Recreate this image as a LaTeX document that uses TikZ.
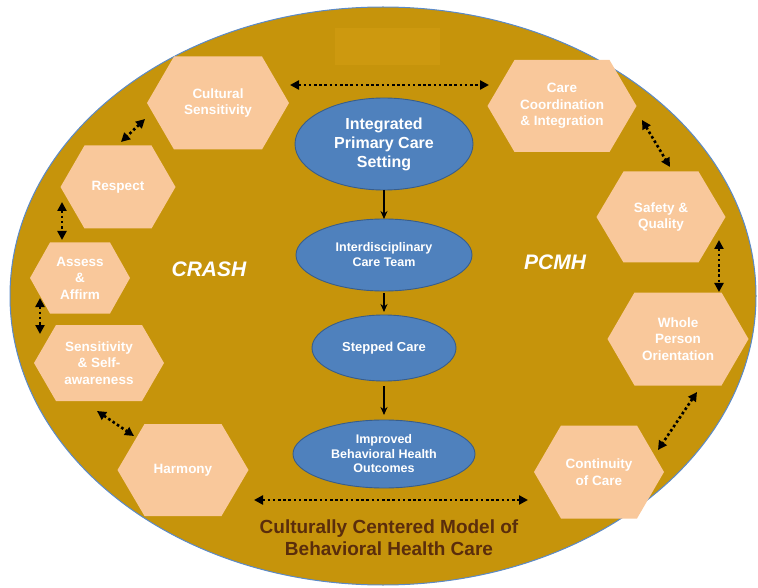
\documentclass[tikz,border=0pt]{standalone}
\usepackage{fontspec}
\setmainfont{Liberation Sans}
\usetikzlibrary{arrows.meta,shapes.geometric}
\definecolor{gold}{HTML}{C6940B}
\definecolor{goldlight}{HTML}{CD990F}
\definecolor{peach}{HTML}{F9C89B}
\definecolor{bluefill}{HTML}{4F81BD}
\definecolor{blueline}{HTML}{385D8A}
\definecolor{rimblue}{HTML}{5B8AC8}
\definecolor{titlebrown}{HTML}{5A2D0C}
\tikzset{
  hextext/.style={inner sep=0pt, outer sep=0pt, align=center, text=white,
    font=\bfseries\fontsize{13.5}{16.5}\selectfont},
  hexfill/.style={fill=peach},
  oval/.style={ellipse, fill=bluefill, draw=blueline, line width=0.9pt,
    inner sep=0pt, outer sep=0pt, align=center, text=white},
  dotarrow/.style={line width=2.6pt, dash pattern=on 2.6pt off 2.6pt,
    {Triangle[length=9pt,width=9pt]}-{Triangle[length=9pt,width=9pt]}},
  flowarrow/.style={line width=1.4pt, -{Stealth[length=8pt,width=7pt]}},
  biglabel/.style={text=white, font=\bfseries\itshape\fontsize{21}{24}\selectfont},
}
\newcommand\hexa[7]{%
  \fill[hexfill] (#2-#4/2+#6,#3-#5/2) -- (#2+#4/2-#6,#3-#5/2) -- (#2+#4/2,#3)
    -- (#2+#4/2-#6,#3+#5/2) -- (#2-#4/2+#6,#3+#5/2) -- (#2-#4/2,#3) -- cycle;
  \node[hextext, minimum width=#4pt, minimum height=#5pt] (#1) at (#2,#3) {#7};
}
\begin{document}
\begin{tikzpicture}[x=1pt,y=-1pt]
\useasboundingbox (0,0) rectangle (758,588);
% background oval
\fill[gold] (383,296) ellipse [x radius=373, y radius=289];
\draw[rimblue, line width=1pt] (383,296) ellipse [x radius=373, y radius=289];
\fill[goldlight] (335,28) rectangle (440,65);

% hexagons
\hexa{cs}{218}{103}{142}{93}{27}{Cultural\\Sensitivity}
\hexa{re}{118}{187}{115}{83}{24}{Respect}
\hexa{aa}{80}{278}{100}{71}{20}{Assess\\\&\\Affirm}
\hexa{ss}{99}{363}{130}{76}{22}{Sensitivity\\\& Self-\\awareness}
\hexa{ha}{183}{470}{131}{92}{27}{Harmony}
\hexa{cc}{562}{106}{149}{92}{27}{Care\\Coordination\\\& Integration}
\hexa{sq}{661}{217}{129}{91}{27}{Safety \&\\Quality}
\hexa{wp}{678}{339}{141}{93}{27}{Whole\\Person\\Orientation}
\hexa{co}{599}{472}{130}{93}{27}{Continuity\\of Care}

% central ovals
\node[oval, minimum width=178pt, minimum height=92pt,
  font=\bfseries\fontsize{16}{19}\selectfont] (ip) at (384,144) {Integrated\\Primary Care\\Setting};
\node[oval, minimum width=176pt, minimum height=72pt,
  font=\bfseries\fontsize{12.5}{15}\selectfont] (it) at (384,255) {Interdisciplinary\\Care Team};
\node[oval, minimum width=144pt, minimum height=66pt,
  font=\bfseries\fontsize{13}{15}\selectfont] (sc) at (384,348) {Stepped Care};
\node[oval, minimum width=182pt, minimum height=68pt,
  font=\bfseries\fontsize{12.5}{14.5}\selectfont] (ib) at (384,454) {Improved\\Behavioral Health\\Outcomes};

\draw[flowarrow] (ip.south) -- (it.north);
\draw[flowarrow, shorten <=2pt, shorten >=3pt] (it.south) -- (sc.north);
\draw[flowarrow, shorten <=5pt, shorten >=5pt] (sc.south) -- (ib.north);

% side labels
\node[biglabel] (crash) at (209,269) {CRASH};
\node[biglabel] (pcmh) at (555,262) {PCMH};

% title
\node[align=center, text=titlebrown, font=\bfseries\fontsize{19}{22}\selectfont] (title) at (389,538)
  {Culturally Centered Model of\\Behavioral Health Care};

% dotted connectors
\coordinate (t1) at (290,85); \coordinate (t2) at (489,85);
\draw[dotarrow] (t1) -- (t2);
\coordinate (b1) at (254,500); \coordinate (b2) at (528,500);
\draw[dotarrow] (b1) -- (b2);
\coordinate (l1a) at (145,119); \coordinate (l1b) at (121,142);
\draw[dotarrow] (l1a) -- (l1b);
\coordinate (l2a) at (62,202); \coordinate (l2b) at (62,240);
\draw[dotarrow] (l2a) -- (l2b);
\coordinate (l3a) at (40,298); \coordinate (l3b) at (40,334);
\draw[dotarrow] (l3a) -- (l3b);
\coordinate (l4a) at (97,411); \coordinate (l4b) at (134,436);
\draw[dotarrow] (l4a) -- (l4b);
\coordinate (r1a) at (642,120); \coordinate (r1b) at (670,167);
\draw[dotarrow] (r1a) -- (r1b);
\coordinate (r2a) at (719,240); \coordinate (r2b) at (719,292);
\draw[dotarrow] (r2a) -- (r2b);
\coordinate (r3a) at (697,392); \coordinate (r3b) at (658,450);
\draw[dotarrow] (r3a) -- (r3b);
\end{tikzpicture}
\end{document}
